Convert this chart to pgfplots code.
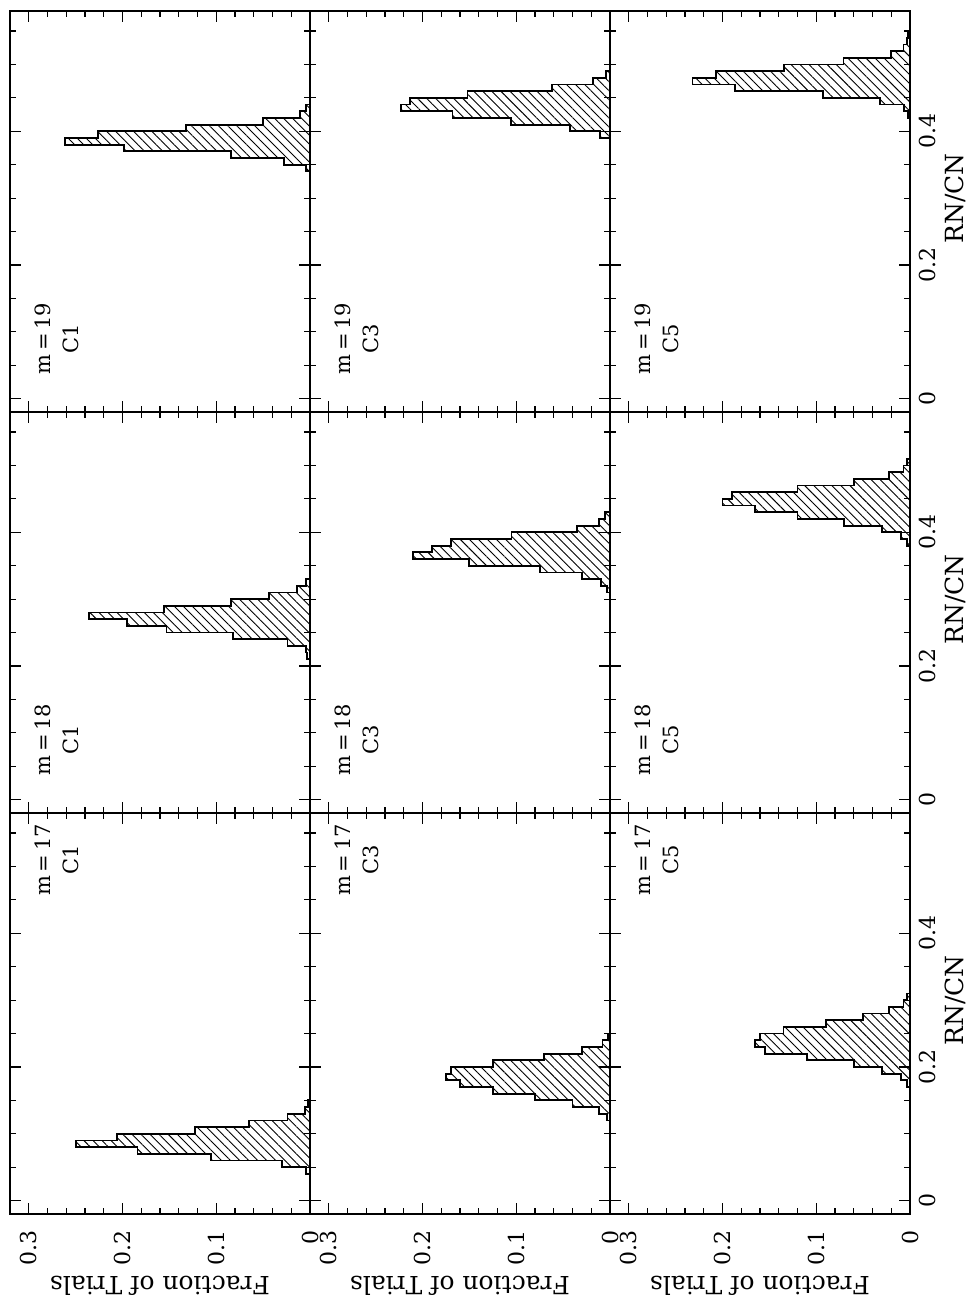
\documentclass[border=0pt]{standalone}
\usepackage{pgfplots}
\pgfplotsset{compat=1.18}
\usepackage{pgfplotstable}
\usepackage{fontspec}
\setmainfont{DejaVu Serif}
\usetikzlibrary{patterns.meta}

% columns: rn = upper edge of RN/CN bin (first row: lower edge of first bin), f = fraction of trials
\pgfplotstableread{
rn f
0.34 0
0.35 0.004
0.36 0.028
0.37 0.084
0.38 0.198
0.39 0.261
0.40 0.226
0.41 0.132
0.42 0.050
0.43 0.011
0.44 0.004
0.44 0
}\tCaNix
\pgfplotstableread{
rn f
0.21 0
0.22 0.003
0.23 0.004
0.24 0.024
0.25 0.082
0.26 0.153
0.27 0.195
0.28 0.236
0.29 0.156
0.30 0.084
0.31 0.044
0.32 0.014
0.33 0.004
0.33 0
}\tCaEig
\pgfplotstableread{
rn f
0.04 0
0.05 0.004
0.06 0.030
0.07 0.106
0.08 0.184
0.09 0.250
0.10 0.206
0.11 0.123
0.12 0.065
0.13 0.024
0.14 0.005
0.15 0.002
0.15 0
}\tCaSev
\pgfplotstableread{
rn f
0.39 0
0.40 0.011
0.41 0.043
0.42 0.106
0.43 0.168
0.44 0.223
0.45 0.213
0.46 0.152
0.47 0.062
0.48 0.018
0.49 0.004
0.49 0
}\tCbNix
\pgfplotstableread{
rn f
0.31 0
0.32 0.003
0.33 0.010
0.34 0.030
0.35 0.075
0.36 0.150
0.37 0.210
0.38 0.190
0.39 0.170
0.40 0.105
0.41 0.035
0.42 0.012
0.43 0.005
0.43 0
}\tCbEig
\pgfplotstableread{
rn f
0.12 0
0.13 0.003
0.14 0.012
0.15 0.040
0.16 0.080
0.17 0.125
0.18 0.160
0.19 0.175
0.20 0.170
0.21 0.125
0.22 0.070
0.23 0.030
0.24 0.008
0.25 0.002
0.25 0
}\tCbSev
\pgfplotstableread{
rn f
0.42 0
0.43 0.002
0.44 0.006
0.45 0.032
0.46 0.093
0.47 0.187
0.48 0.232
0.49 0.207
0.50 0.134
0.51 0.071
0.52 0.020
0.53 0.007
0.54 0.003
0.55 0.002
0.55 0
}\tCcNix
\pgfplotstableread{
rn f
0.38 0
0.39 0.003
0.40 0.010
0.41 0.030
0.42 0.070
0.43 0.120
0.44 0.165
0.45 0.200
0.46 0.190
0.47 0.120
0.48 0.060
0.49 0.022
0.50 0.007
0.51 0.003
0.51 0
}\tCcEig
\pgfplotstableread{
rn f
0.17 0
0.18 0.003
0.19 0.010
0.20 0.030
0.21 0.060
0.22 0.110
0.23 0.155
0.24 0.165
0.25 0.160
0.26 0.135
0.27 0.090
0.28 0.050
0.29 0.022
0.30 0.007
0.31 0.003
0.31 0
}\tCcSev

\pgfplotsset{
  panel/.style={
    scale only axis, width=150pt, height=200.5pt, anchor=south west,
    xmin=-0.32, xmax=0, ymin=-0.02, ymax=0.58,
    xtick={-0.3,-0.2,-0.1,0},
    minor xtick={-0.28,-0.26,-0.24,-0.22,-0.18,-0.16,-0.14,-0.12,-0.08,-0.06,-0.04,-0.02},
    ytick={0,0.2,0.4},
    minor ytick={0.05,0.1,0.15,0.25,0.3,0.35,0.45,0.5,0.55},
    xticklabels={}, yticklabels={},
    tick align=inside, major tick length=5.5pt, minor tick length=3pt,
    tick style={black, line width=0.6pt},
    axis line style={line width=1pt},
  },
  botrow/.style={
    xticklabels={0.3,0.2,0.1,0},
    xticklabel style={rotate=90, anchor=east, font=\fontsize{11}{11}\selectfont},
    xticklabel shift=4.5pt,
    xlabel={Fraction of Trials},
    xlabel style={at={(rel axis cs:0.5,-0.18)}, anchor=center, rotate=180, font=\fontsize{12.5}{13}\selectfont},
  },
  rightcol/.style={
    yticklabels={0,0.2,0.4},
    yticklabel pos=right,
    yticklabel style={rotate=90, anchor=north, font=\fontsize{11}{11}\selectfont},
    yticklabel shift=1pt,
    ylabel={RN/CN},
    ylabel style={at={(rel axis cs:1.152,0.533)}, anchor=center, rotate=0, font=\fontsize{12.5}{13}\selectfont},
  },
  hist/.style={const plot mark left, draw=black, line width=0.9pt, mark=none,
    pattern={Lines[angle=-45,distance=3.2pt,line width=0.45pt]}},
}
\tikzset{mlab/.style={rotate=90, align=center, font=\fontsize{10.5}{14}\selectfont}}

\newcommand\panel[7]{%
\begin{axis}[panel, at={(#1,#2)}, #7]
\addplot[hist] table[x expr=-\thisrow{f}, y=rn] {#3};
\node[mlab] at (axis cs:-0.27,#6) {m\,=\,#4\\#5};
\end{axis}}

\begin{document}
\begin{tikzpicture}
\useasboundingbox (0,0) rectangle (486pt,650.5pt);
% column C1
\panel{5pt}{444.5pt}{\tCaNix}{19}{C1}{0.09}{}
\panel{5pt}{244pt}{\tCaEig}{18}{C1}{0.09}{}
\panel{5pt}{43.5pt}{\tCaSev}{17}{C1}{0.51}{botrow}
% column C3
\panel{155pt}{444.5pt}{\tCbNix}{19}{C3}{0.09}{}
\panel{155pt}{244pt}{\tCbEig}{18}{C3}{0.09}{}
\panel{155pt}{43.5pt}{\tCbSev}{17}{C3}{0.51}{botrow}
% column C5
\panel{305pt}{444.5pt}{\tCcNix}{19}{C5}{0.09}{rightcol}
\panel{305pt}{244pt}{\tCcEig}{18}{C5}{0.09}{rightcol}
\panel{305pt}{43.5pt}{\tCcSev}{17}{C5}{0.51}{botrow,rightcol}
\end{tikzpicture}
\end{document}
